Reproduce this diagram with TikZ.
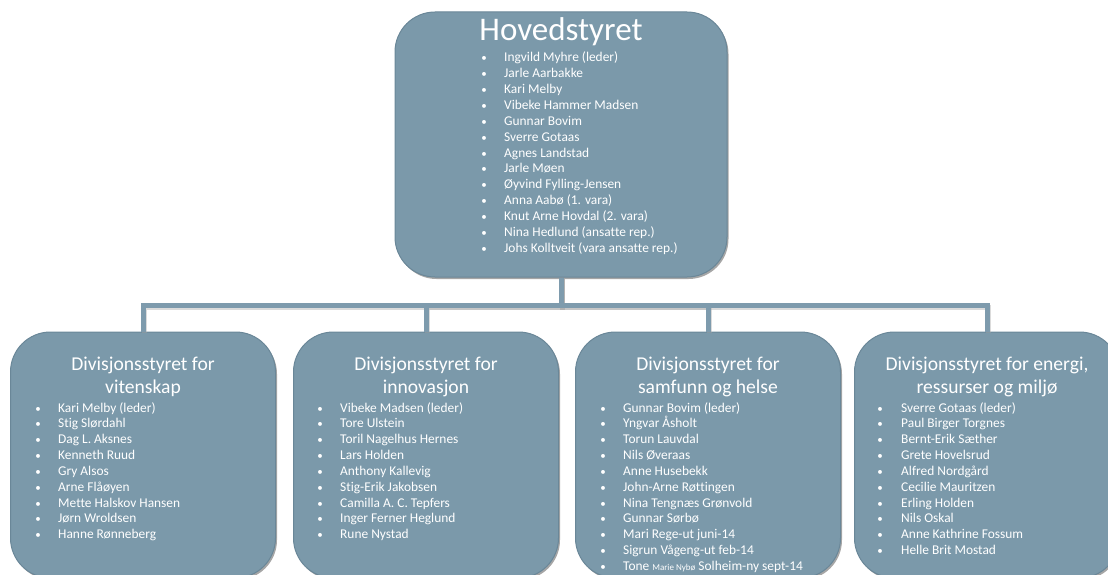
\documentclass[tikz,border=0pt]{standalone}
\usepackage{fontspec}
\setmainfont{Carlito}[Ligatures=CommonOff]
\usetikzlibrary{shadows}

\definecolor{boardfill}{HTML}{7B99AA}
\definecolor{boardrim}{HTML}{6A8798}
\definecolor{linkcol}{HTML}{7E9BAD}

\tikzset{
  board/.style={rectangle, fill=boardfill, draw=boardrim, line width=1pt,
    rounded corners=40pt, inner sep=0pt,
    drop shadow={shadow xshift=1.5pt, shadow yshift=-2pt, fill=black, opacity=.35}},
  division/.style={board, minimum width=265pt, minimum height=246pt},
  headline/.style={text=white, inner sep=0pt, font=\fontsize{33}{38}\selectfont},
  divtitle/.style={text=white, inner sep=0pt, align=center, font=\fontsize{19.6}{23}\selectfont},
  member/.style={text=white, inner sep=0pt, anchor=base west, font=\fontsize{13.4}{15}\selectfont},
  dot/.style={text=white, inner sep=0pt, anchor=base, font=\fontsize{11}{13}\selectfont},
  link/.style={draw=linkcol, line width=5pt},
  linkshade/.style={draw=black!35, line width=5pt, opacity=.4}
}

\begin{document}
\begin{tikzpicture}[x=1pt, y=-1pt]

\useasboundingbox (0,0) rectangle (1108,575);

% \boardlist{name}{bullet x}{text x}{first baseline}{members}
\newcommand{\boardlist}[5]{%
  \foreach \who [count=\i from 0] in {#5} {
    \pgfmathsetmacro{\ypos}{#4+15.85*\i}
    \node[dot] (#1b-\i) at (#2,\ypos) {\textbullet};
    \node[member] (#1-\i) at (#3,\ypos) {\who};
  }%
}

% boxes
\node[board, minimum width=332pt, minimum height=265pt] (hoved) at (561,144.5) {};
\node[division] (vitenskap) at (143,455) {};
\node[division] (innovasjon) at (426,455) {};
\node[division] (samfunn) at (708,455) {};
\node[division] (energi) at (987,455) {};

% connectors
\foreach \div in {vitenskap,innovasjon,samfunn,energi} {
  \draw[linkshade] ([shift={(1.5pt,-1.5pt)}]hoved.south) -- ++(0,28) -| ([shift={(1.5pt,-1.5pt)}]\div.north);
}
\foreach \div in {vitenskap,innovasjon,samfunn,energi} {
  \draw[link] (hoved.south) -- ++(0,28) -| (\div.north);
}

% Hovedstyret
\node[headline, anchor=base] (hovedtitle) at (561,41) {Hovedstyret};
\boardlist{hov}{484}{504}{62}{Ingvild Myhre (leder), Jarle Aarbakke, Kari Melby,
  Vibeke Hammer Madsen, Gunnar Bovim, Sverre Gotaas, Agnes Landstad, Jarle Møen,
  Øyvind Fylling-Jensen, Anna Aabø (1. vara), Knut Arne Hovdal (2. vara),
  Nina Hedlund (ansatte rep.), Johs Kolltveit (vara ansatte rep.)}

% divisjonsstyrene
\node[divtitle] (vittitle) at (143,377) {Divisjonsstyret for\\vitenskap};
\boardlist{vit}{38}{58}{412}{Kari Melby (leder), Stig Slørdahl, Dag L. Aksnes,
  Kenneth Ruud, Gry Alsos, Arne Flåøyen, Mette Halskov Hansen, Jørn Wroldsen,
  Hanne Rønneberg}

\node[divtitle] (innotitle) at (426,377) {Divisjonsstyret for\\innovasjon};
\boardlist{inn}{320}{340}{412}{Vibeke Madsen (leder), Tore Ulstein,
  Toril Nagelhus Hernes, Lars Holden, Anthony Kallevig, Stig-Erik Jakobsen,
  Camilla A. C. Tepfers, Inger Ferner Heglund, Rune Nystad}

\node[divtitle] (samtitle) at (708,377) {Divisjonsstyret for\\samfunn og helse};
\boardlist{sam}{603}{623}{412}{Gunnar Bovim (leder), Yngvar Åsholt, Torun Lauvdal,
  Nils Øveraas, Anne Husebekk, John-Arne Røttingen, Nina Tengnæs Grønvold,
  Gunnar Sørbø, Mari Rege-ut juni-14, Sigrun Vågeng-ut feb-14,
  {Tone {\fontsize{9}{9}\selectfont Marie Nybø} Solheim-ny sept-14}}

\node[divtitle] (enetitle) at (987,377) {Divisjonsstyret for energi,\\ressurser og miljø};
\boardlist{ene}{880}{901}{412}{Sverre Gotaas (leder), Paul Birger Torgnes,
  Bernt-Erik Sæther, Grete Hovelsrud, Alfred Nordgård, Cecilie Mauritzen,
  Erling Holden, Nils Oskal, Anne Kathrine Fossum, Helle Brit Mostad}

\end{tikzpicture}
\end{document}
